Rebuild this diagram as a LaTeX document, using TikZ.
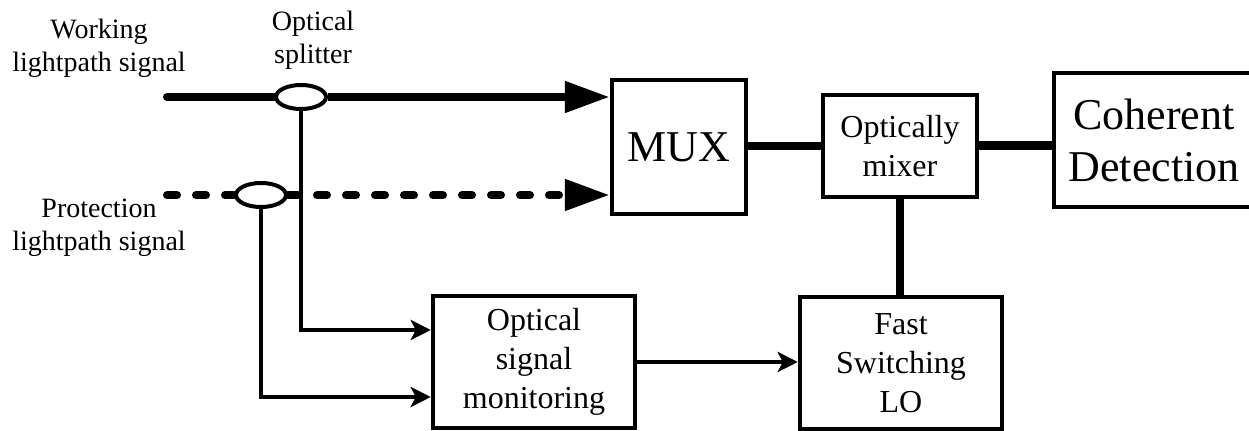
\documentclass[tikz,border=0pt]{standalone}
\usepackage{fontspec}
\setmainfont{Liberation Serif}
\usetikzlibrary{arrows.meta,shapes.geometric}

\begin{document}
\begin{tikzpicture}[x=0.5pt,y=-0.5pt,
  blk/.style={shape=rectangle, draw, line width=2.25pt, align=center, inner sep=0pt, font=\fontsize{16}{19.5}\selectfont},
  bigtxt/.style={font=\fontsize{22}{26}\selectfont},
  splitter/.style={shape=ellipse, draw, fill=white, line width=2pt, minimum width=25pt, minimum height=12pt, inner sep=0pt},
  lbl/.style={align=center, font=\fontsize{14}{16.5}\selectfont},
  fiber/.style={line width=4pt},
  dashfiber/.style={line width=4pt, dash pattern=on 5pt off 9.5pt, line cap=round},
  tapline/.style={line width=2pt, -{Stealth[length=10pt,width=10pt,inset=2.5pt]}},
  bigtip/.style={-{Triangle[length=22.5pt,width=15pt]}}]
			\useasboundingbox (0,0) rectangle (1249,431);
			\node[blk, bigtxt, minimum width=67pt, minimum height=67pt] (mux) at (679,147) {MUX};
			\node[blk, minimum width=77pt, minimum height=51pt] (mixer) at (900,146) {Optically\\mixer};
			\node[blk, bigtxt, minimum width=100pt, minimum height=67pt] (coh) at (1154,140) {Coherent\\Detection};
			\node[blk, minimum width=101pt, minimum height=66pt] (mon) at (534,362) {Optical\\signal\\monitoring};
			\node[blk, minimum width=101pt, minimum height=66pt] (fast) at (901,363) {Fast\\Switching\\LO};
			\node[splitter] (sp1) at (301,97) {};
			\node[splitter] (sp2) at (261,195) {};
			\coordinate (win) at (167,97);
			\coordinate (pin) at (167,195);
			\node[lbl] (wlbl) at (99,48) {Working\\lightpath signal};
			\node[lbl] (plbl) at (99,228) {Protection\\lightpath signal};
			\node[lbl] (slbl) at (313,40) {Optical\\splitter};
			% signal paths
			\draw[fiber, line cap=round] (win) -- (sp1.west);
			\draw[fiber, bigtip] (sp1.east) -- (sp1.east -| mux.west);
			\draw[dashfiber] (pin) -- (sp2.west);
			\draw[dashfiber, bigtip] (sp2.east) -- (sp2.east -| mux.west);
			\draw[fiber] (mux.east |- mixer.west) -- (mixer.west);
			\draw[line width=4.5pt] (mixer.east) -- (mixer.east -| coh.west);
			\draw[fiber] (mixer.south) -- (mixer.south |- fast.north);
			% monitoring taps
			\draw[tapline] (sp1.south) |- ([yshift=16pt]mon.west);
			\draw[tapline] (sp2.south) |- ([yshift=-17.5pt]mon.west);
			\draw[tapline] (mon.east) -- (mon.east -| fast.west);
		\end{tikzpicture}
\end{document}
